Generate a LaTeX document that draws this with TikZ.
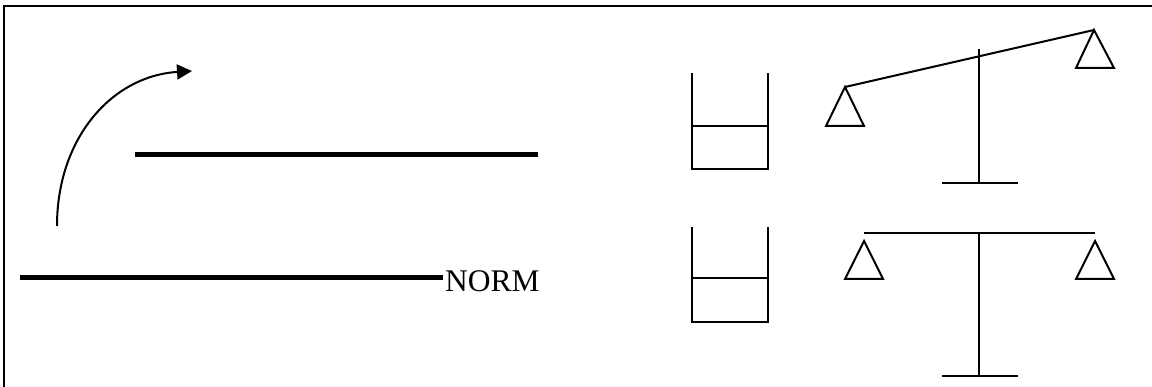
\documentclass[tikz,border=0pt]{standalone}
\usepackage{fontspec}
\setmainfont{Liberation Serif}
\usetikzlibrary{arrows.meta}
\tikzset{
  thin line/.style={line width=2pt},
  thick bar/.style={line width=5pt},
  frame line/.style={line width=2.2pt},
  pan/.style={line width=2pt, line join=miter},
  label text/.style={inner sep=0pt, font=\fontsize{31.5}{36}\selectfont}
}
\begin{document}
\begin{tikzpicture}[x=1pt, y=-1pt]
  \useasboundingbox (0,0) rectangle (1152,387);
  % open frame: left and top edges
  \draw[frame line] (4,390) -- (4,6) -- (1155,6);

  % left panel: two levels and the rising arrow
  \coordinate (upL) at (135,155);
  \coordinate (upR) at (538,155);
  \draw[thick bar] (upL) -- (upR);
  \coordinate (lowL) at (20,278);
  \coordinate (lowR) at (443,278);
  \draw[thick bar] (lowL) -- (lowR);
  \node[label text, anchor=base west] (norm) at (445,292) {NORM};
  \coordinate (arrS) at (57,226);
  \coordinate (arrE) at (192,71);
  \draw[thin line, -{Triangle[length=15pt,width=15pt]}]
    (arrS) .. controls (57,138) and (112,76) .. (arrE);

  % upper beaker
  \coordinate (b1tl) at (692,73);
  \coordinate (b1bl) at (692,169);
  \coordinate (b1br) at (768,169);
  \coordinate (b1tr) at (768,73);
  \draw[thin line] (b1tl) -- (b1bl) -- (b1br) -- (b1tr);
  \draw[thin line] (692,126) -- (768,126);

  % lower beaker
  \coordinate (b2tl) at (692,227);
  \coordinate (b2bl) at (692,322);
  \coordinate (b2br) at (768,322);
  \coordinate (b2tr) at (768,227);
  \draw[thin line] (b2tl) -- (b2bl) -- (b2br) -- (b2tr);
  \draw[thin line] (692,278) -- (768,278);

  % tilted balance
  \coordinate (t1L) at (845,87);
  \coordinate (t1R) at (1094,30);
  \draw[thin line] (t1L) -- (t1R);
  \draw[pan] (t1L) -- (826,126) -- (864,126) -- cycle;
  \draw[pan] (t1R) -- (1076,68) -- (1114,68) -- cycle;
  \coordinate (p1top) at (979,49);
  \coordinate (p1bot) at (979,183);
  \draw[thin line] (p1top) -- (p1bot);
  \draw[thin line] (942,183) -- (1018,183);

  % level balance
  \coordinate (t2L) at (864,233);
  \coordinate (t2R) at (1095,233);
  \draw[thin line] (t2L) -- (t2R);
  \draw[pan] (864,241) -- (845,279) -- (883,279) -- cycle;
  \draw[pan] (1095,241) -- (1076,279) -- (1114,279) -- cycle;
  \coordinate (p2top) at (979,233);
  \coordinate (p2bot) at (979,376);
  \draw[thin line] (p2top) -- (p2bot);
  \draw[thin line] (942,376) -- (1018,376);
\end{tikzpicture}
\end{document}
